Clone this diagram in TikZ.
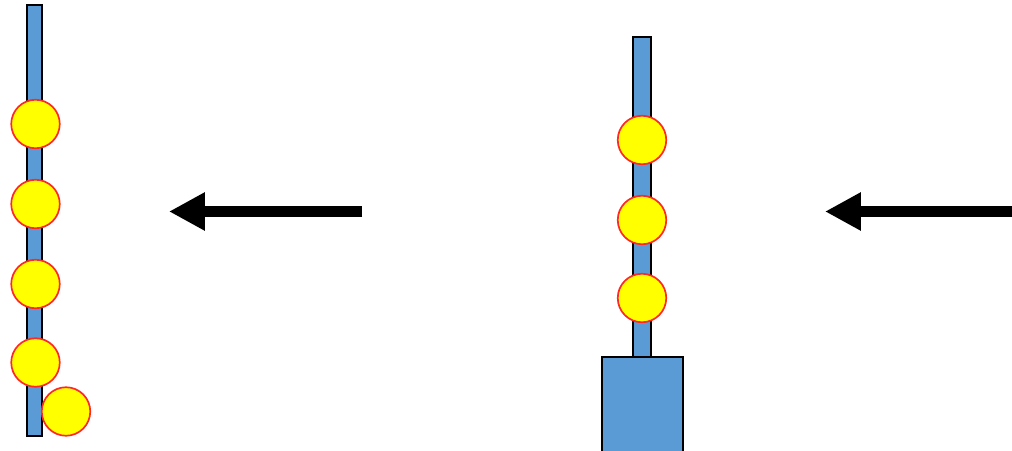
\documentclass[tikz,border=0pt]{standalone}
\usepackage{tikz}
\usetikzlibrary{arrows.meta}
\usetikzlibrary{positioning}

\definecolor{rodblue}{RGB}{91,155,213}
\definecolor{beadyellow}{RGB}{255,255,0}
\definecolor{beadred}{RGB}{255,40,40}
\tikzset{
  rod/.style={fill=rodblue,draw=black,line width=1pt},
  bead/.style={circle,fill=beadyellow,draw=beadred,line width=1.2pt,minimum size=34.5pt,inner sep=0pt},
  push/.style={line width=7.8pt,-{Triangle[length=25.5pt,width=25.5pt]}}
}

\begin{document}
\begin{tikzpicture}[line join=miter,x=0.025cm,y=-0.025cm]
\useasboundingbox (0,0) rectangle (1012,451);
\clip (0,0) rectangle (1012,451);
% left rod with five beads
\draw[rod] (27,5) rectangle (42,436);
\node[bead] (l1) at (35.5,124) {};
\node[bead] (l2) at (35.5,204) {};
\node[bead] (l3) at (35.5,284) {};
\node[bead] (l4) at (35.5,362.5) {};
\node[bead] (l5) at (66,411.5) {};
% right rod with three beads on a block
\draw[rod] (633,37) rectangle (651,357);
\draw[rod] (602,357) rectangle (683,460);
\node[bead] (r1) at (642,140) {};
\node[bead] (r2) at (642,220) {};
\node[bead] (r3) at (642,298) {};
% arrows
\coordinate (a1s) at (362,211.5);
\coordinate (a1e) at (169,211.5);
\coordinate (a2s) at (1015,211.5);
\coordinate (a2e) at (825,211.5);
\draw[push] (a1s) -- (a1e);
\draw[push] (a2s) -- (a2e);
\end{tikzpicture}
\end{document}
